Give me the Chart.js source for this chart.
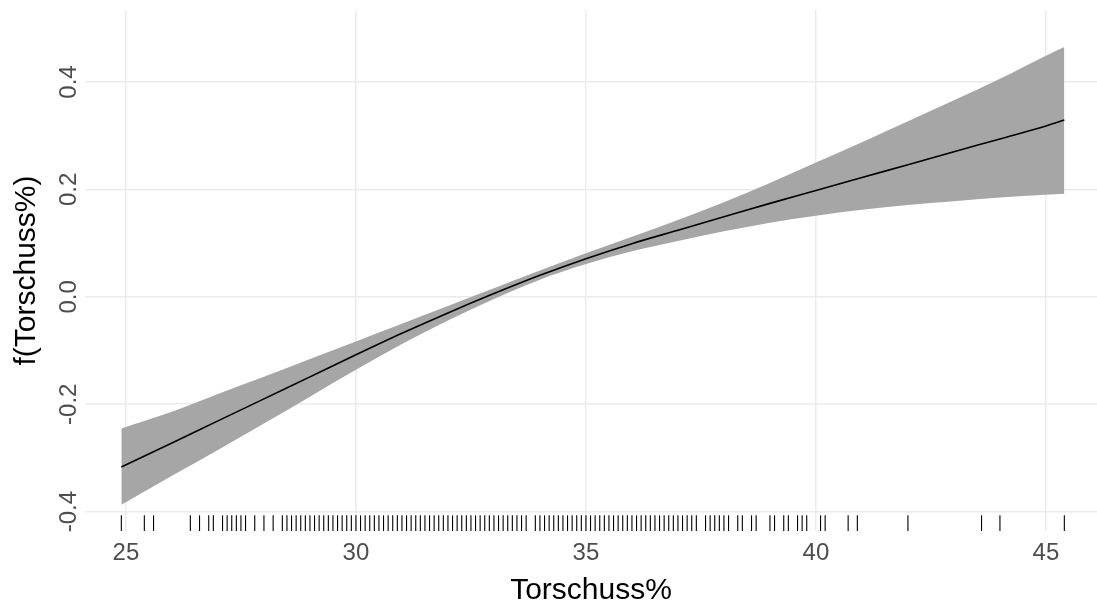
<!DOCTYPE html>
<html>
<head>
<meta charset="utf-8">
<script src="https://cdn.jsdelivr.net/npm/chart.js@4/dist/chart.umd.min.js"></script>
<style>
  html, body { margin: 0; padding: 0; background: #ffffff; }
  canvas { display: block; }
</style>
</head>
<body>
<canvas id="chart" width="1097" height="604"></canvas>
<script>
// Smooth term f(Torschuss%) with its confidence band
const xGrid = [24.9, 26, 27, 28, 29, 30, 31, 32, 33, 34, 35, 36, 37, 38, 39, 40, 41, 42, 43, 44, 45, 45.4];
const fitLine = [-0.317, -0.272, -0.231, -0.190, -0.149, -0.108, -0.068, -0.030, 0.006, 0.040, 0.071,
                 0.099, 0.124, 0.149, 0.174, 0.198, 0.222, 0.246, 0.270, 0.294, 0.318, 0.329];
const upperBand = [-0.245, -0.214, -0.181, -0.149, -0.116, -0.083, -0.050, -0.017, 0.016, 0.049, 0.081,
                   0.112, 0.143, 0.176, 0.212, 0.250, 0.288, 0.327, 0.366, 0.406, 0.449, 0.465];
const lowerBand = [-0.387, -0.333, -0.285, -0.236, -0.186, -0.136, -0.088, -0.044, -0.004, 0.032, 0.061,
                   0.085, 0.104, 0.122, 0.138, 0.151, 0.162, 0.171, 0.178, 0.185, 0.190, 0.192];

// Observed Torschuss% values shown as a rug
const rugValues = [
  24.9, 25.4, 25.6, 26.4, 26.6, 26.8, 26.9, 27.1, 27.2, 27.3, 27.4, 27.5, 27.6, 27.8, 28.0, 28.2,
  28.4, 28.5, 28.6, 28.7, 28.8, 28.9, 29.0, 29.1, 29.2, 29.3, 29.4, 29.5, 29.6, 29.7, 29.8, 29.9,
  30.0, 30.1, 30.2, 30.3, 30.4, 30.5, 30.6, 30.7, 30.8, 30.9, 31.0, 31.1, 31.2, 31.3, 31.4, 31.5,
  31.6, 31.7, 31.8, 31.9, 32.0, 32.1, 32.2, 32.3, 32.4, 32.5, 32.6, 32.7, 32.8, 32.9, 33.0, 33.1,
  33.2, 33.3, 33.4, 33.5, 33.6, 33.7, 33.9, 34.0, 34.1, 34.2, 34.3, 34.4, 34.5, 34.6, 34.7, 34.8,
  34.9, 35.0, 35.1, 35.2, 35.3, 35.4, 35.5, 35.6, 35.7, 35.8, 35.9, 36.0, 36.1, 36.2, 36.3, 36.4,
  36.5, 36.6, 36.7, 36.8, 36.9, 37.0, 37.1, 37.2, 37.3, 37.4, 37.6, 37.7, 37.8, 37.9, 38.0, 38.1,
  38.3, 38.4, 38.6, 38.7, 39.0, 39.1, 39.3, 39.4, 39.6, 39.7, 39.8, 40.1, 40.2, 40.7, 40.9, 42.0,
  43.6, 44.0, 45.4
];

const xTicks = [25, 30, 35, 40, 45];
const xTickLabels = ['25', '30', '35', '40', '45'];
const yTicks = [-0.4, -0.2, 0.0, 0.2, 0.4];
const yTickLabels = ['-0.4', '-0.2', '0.0', '0.2', '0.4'];

const FONT = "'Liberation Sans', Arial, sans-serif";

const toPoints = (ys) => xGrid.map((x, i) => ({ x: x, y: ys[i] }));

// Rug marks along the bottom of the panel
const rugPlugin = {
  id: 'rug',
  afterDatasetsDraw(chart) {
    const { ctx, chartArea, scales } = chart;
    const len = (chartArea.bottom - chartArea.top) * 0.03;
    ctx.save();
    ctx.strokeStyle = '#000000';
    ctx.lineWidth = 1.1;
    rugValues.forEach(v => {
      const px = scales.x.getPixelForValue(v);
      ctx.beginPath();
      ctx.moveTo(px, chartArea.bottom);
      ctx.lineTo(px, chartArea.bottom - len);
      ctx.stroke();
    });
    ctx.restore();
  }
};

// Vertical y tick labels, reading bottom to top
const yLabelPlugin = {
  id: 'yLabels',
  afterDraw(chart) {
    const { ctx, scales } = chart;
    ctx.save();
    ctx.fillStyle = '#4d4d4d';
    ctx.font = '24px ' + FONT;
    ctx.textAlign = 'center';
    ctx.textBaseline = 'middle';
    yTicks.forEach((v, i) => {
      const py = scales.y.getPixelForValue(v);
      ctx.save();
      ctx.translate(69, py);
      ctx.rotate(-Math.PI / 2);
      ctx.fillText(yTickLabels[i], 0, 0);
      ctx.restore();
    });
    ctx.restore();
  }
};

new Chart(document.getElementById('chart'), {
  type: 'line',
  data: {
    datasets: [
      {
        label: 'upper',
        data: toPoints(upperBand),
        borderWidth: 0,
        borderColor: 'rgba(0,0,0,0)',
        backgroundColor: '#a6a6a6',
        pointRadius: 0,
        fill: '+1',
        cubicInterpolationMode: 'monotone',
        order: 3
      },
      {
        label: 'lower',
        data: toPoints(lowerBand),
        borderWidth: 0,
        borderColor: 'rgba(0,0,0,0)',
        pointRadius: 0,
        fill: false,
        cubicInterpolationMode: 'monotone',
        order: 2
      },
      {
        label: 'fit',
        data: toPoints(fitLine),
        borderColor: '#000000',
        borderWidth: 1.6,
        pointRadius: 0,
        fill: false,
        cubicInterpolationMode: 'monotone',
        order: 1
      }
    ]
  },
  options: {
    responsive: false,
    devicePixelRatio: 1,
    animation: false,
    layout: { padding: { top: 10, right: 0, bottom: 0, left: 0 } },
    plugins: {
      legend: { display: false },
      tooltip: { enabled: false }
    },
    scales: {
      x: {
        type: 'linear',
        min: 24.11,
        max: 46.11,
        afterBuildTicks: (scale) => { scale.ticks = xTicks.map(v => ({ value: v })); },
        afterFit: (scale) => { scale.height = 73; },
        grid: { color: '#ebebeb', lineWidth: 1.5, drawTicks: false },
        border: { display: false },
        ticks: {
          color: '#4d4d4d',
          font: { family: FONT, size: 24 },
          padding: 8,
          maxRotation: 0,
          callback: (v) => xTickLabels[xTicks.indexOf(v)]
        },
        title: {
          display: true,
          text: 'Torschuss%',
          color: '#000000',
          font: { family: FONT, size: 30, lineHeight: 0.9 },
          padding: { top: 0, bottom: 0 }
        }
      },
      y: {
        type: 'linear',
        min: -0.436,
        max: 0.534,
        afterBuildTicks: (scale) => { scale.ticks = yTicks.map(v => ({ value: v })); },
        afterFit: (scale) => { scale.width = 85; },
        grid: { color: '#ebebeb', lineWidth: 1.5, drawTicks: false },
        border: { display: false },
        ticks: { display: false },
        title: {
          display: true,
          text: 'f(Torschuss%)',
          color: '#000000',
          font: { family: FONT, size: 30, lineHeight: 1.0 },
          padding: { top: 12, bottom: 0 }
        }
      }
    }
  },
  plugins: [rugPlugin, yLabelPlugin]
});
</script>
</body>
</html>
